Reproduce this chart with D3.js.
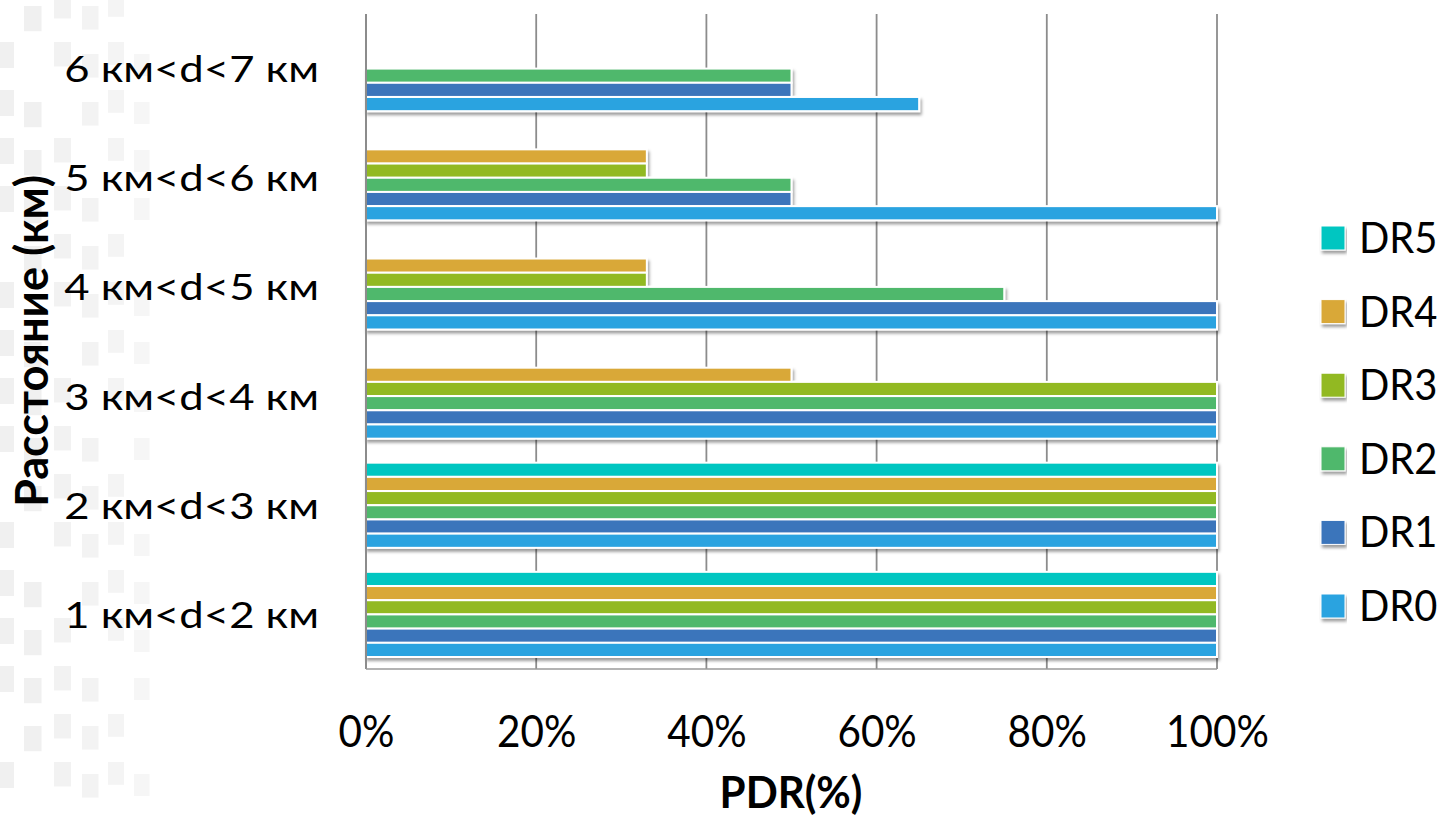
<!DOCTYPE html>
<html>
<head>
<meta charset="utf-8">
<script src="https://cdn.jsdelivr.net/npm/d3@7"></script>
<style>
  html, body { margin: 0; padding: 0; background: #fff; }
  svg { display: block; }
  text { font-family: Lato, "Open Sans", sans-serif; fill: #000; }
</style>
</head>
<body>
<svg id="chart" width="1440" height="819"></svg>
<script>
// Distance bands, listed top to bottom as drawn
const categories = ["6 км<d<7 км", "5 км<d<6 км", "4 км<d<5 км", "3 км<d<4 км", "2 км<d<3 км", "1 км<d<2 км"];
// Data-rate series (legend order top to bottom)
const seriesNames = ["DR5", "DR4", "DR3", "DR2", "DR1", "DR0"];
// PDR values in %, one entry per category (same order as categories); null = no packets
const DR0 = [65, 100, 100, 100, 100, 100];
const DR1 = [50, 50, 100, 100, 100, 100];
const DR2 = [50, 50, 75, 100, 100, 100];
const DR3 = [null, 33, 33, 100, 100, 100];
const DR4 = [null, 33, 33, 50, 100, 100];
const DR5 = [null, null, null, null, 100, 100];
const xTicks = [0, 20, 40, 60, 80, 100];

const seriesValues = { DR0, DR1, DR2, DR3, DR4, DR5 };
const colors = {
  DR0: "#2aa3e0", DR1: "#3b74bb", DR2: "#50b86c",
  DR3: "#92b924", DR4: "#d9a838", DR5: "#06c6c1"
};

const svg = d3.select("#chart");
const defs = svg.append("defs");
const shadow = defs.append("filter").attr("id", "shadow")
  .attr("x", "-5%").attr("y", "-30%").attr("width", "110%").attr("height", "180%");
shadow.append("feDropShadow").attr("dx", 1.5).attr("dy", 3).attr("stdDeviation", 1.8)
  .attr("flood-color", "#000").attr("flood-opacity", 0.38);

// faint tiled backdrop along the left edge
const tiles = svg.append("g").attr("class", "backdrop");
const colX = [-4, 24, 54, 82, 108, 134];
const colOp = [0.09, 0.085, 0.08, 0.07, 0.065, 0.055];
d3.range(colX.length).forEach(i => {
  d3.range(17).forEach(j => {
    if ((i * 7 + j * 3) % 5 === 0) return;
    const y0 = j * 48 + (i % 2) * 12 - 6;
    const w = 18 - i * 0.5;
    const h = 26 - i * 0.8;
    tiles.append("rect").attr("x", colX[i]).attr("y", y0).attr("width", w).attr("height", h)
      .attr("fill", "#555").attr("opacity", colOp[i]);
  });
});

const plot = { left: 366, right: 1217, top: 14, bottom: 669 };

const x = d3.scaleLinear().domain([0, 100]).range([plot.left, plot.right]);
const y = d3.scaleBand().domain(categories).range([plot.top, plot.bottom]).paddingInner(0).paddingOuter(0);
const groupPad = 12;
const yInner = d3.scaleBand().domain(seriesNames).range([groupPad, y.bandwidth() - groupPad]).padding(0);

// vertical gridlines
svg.append("g").attr("class", "grid")
  .selectAll("line").data(xTicks).join("line")
  .attr("x1", d => x(d)).attr("x2", d => x(d))
  .attr("y1", plot.top).attr("y2", plot.bottom)
  .attr("stroke", "#8c8c8c").attr("stroke-width", 1.8);

// bars
const rows = [];
categories.forEach((c, ci) => {
  seriesNames.forEach(s => {
    const v = seriesValues[s][ci];
    if (v != null) rows.push({ cat: c, series: s, value: v });
  });
});

const barLayer = svg.append("g").attr("class", "bars");
categories.forEach(c => {
  barLayer.append("g")
    .attr("filter", "url(#shadow)")
    .attr("transform", `translate(0,${y(c)})`)
    .selectAll("rect").data(rows.filter(r => r.cat === c)).join("rect")
    .attr("x", x(0))
    .attr("y", d => yInner(d.series))
    .attr("width", d => x(d.value) - x(0))
    .attr("height", yInner.bandwidth())
    .attr("fill", d => colors[d.series])
    .attr("stroke", "#fff")
    .attr("stroke-width", 2);
});

// left axis line and bottom line
svg.append("line").attr("x1", x(0)).attr("x2", x(0)).attr("y1", plot.top).attr("y2", plot.bottom)
  .attr("stroke", "#8c8c8c").attr("stroke-width", 2);
svg.append("line").attr("x1", x(0)).attr("x2", x(100)).attr("y1", plot.bottom).attr("y2", plot.bottom)
  .attr("stroke", "#9a9a9a").attr("stroke-width", 1.6);

// x axis labels
const xAxis = svg.append("g").attr("transform", `translate(0,${plot.bottom})`)
  .call(d3.axisBottom(x).tickValues(xTicks).tickFormat(d => d + "%").tickSize(0));
xAxis.select(".domain").remove();
xAxis.selectAll("text")
  .attr("font-family", "Lato, sans-serif")
  .attr("font-size", 44).attr("fill", "#000")
  .attr("x", 0).attr("y", 0).attr("dy", 0)
  .attr("transform", "translate(0,78) scale(0.92,1)")
  .attr("text-anchor", "middle");

// category labels
const yAxis = svg.append("g").attr("transform", `translate(${plot.left},0)`)
  .call(d3.axisLeft(y).tickSize(0));
yAxis.select(".domain").remove();
yAxis.selectAll(".tick text")
  .attr("font-family", "Lato, sans-serif")
  .attr("font-size", 37).attr("fill", "#000")
  .attr("x", 0).attr("dy", 0).attr("y", 0)
  .attr("text-anchor", "end")
  .attr("transform", "translate(-47,13.5) scale(1.18,1)");

// axis titles
svg.append("text")
  .attr("font-family", "Lato, sans-serif").attr("font-weight", 700)
  .attr("font-size", 43).attr("text-anchor", "middle")
  .attr("transform", "translate(791,808) scale(0.98,1)")
  .text("PDR(%)");

svg.append("text")
  .attr("font-family", "Lato, sans-serif").attr("font-weight", 700)
  .attr("font-size", 46).attr("text-anchor", "middle")
  .attr("transform", "translate(48,341) rotate(-90) scale(0.98,1)")
  .text("Расстояние (км)");

// legend
const legend = svg.append("g").attr("class", "legend");
const legendY = d3.scalePoint().domain(seriesNames).range([238, 606]);
const li = legend.selectAll("g").data(seriesNames).join("g")
  .attr("transform", d => `translate(1321,${legendY(d)})`);
li.append("rect").attr("x", 0).attr("y", -12).attr("width", 24).attr("height", 24)
  .attr("fill", d => colors[d]).attr("stroke", "#fff").attr("stroke-width", 1)
  .attr("filter", "url(#shadow)");
li.append("text")
  .attr("font-family", "Lato, sans-serif").attr("font-size", 42)
  .attr("transform", "translate(38,15) scale(0.95,1)")
  .text(d => d);
</script>
</body>
</html>
